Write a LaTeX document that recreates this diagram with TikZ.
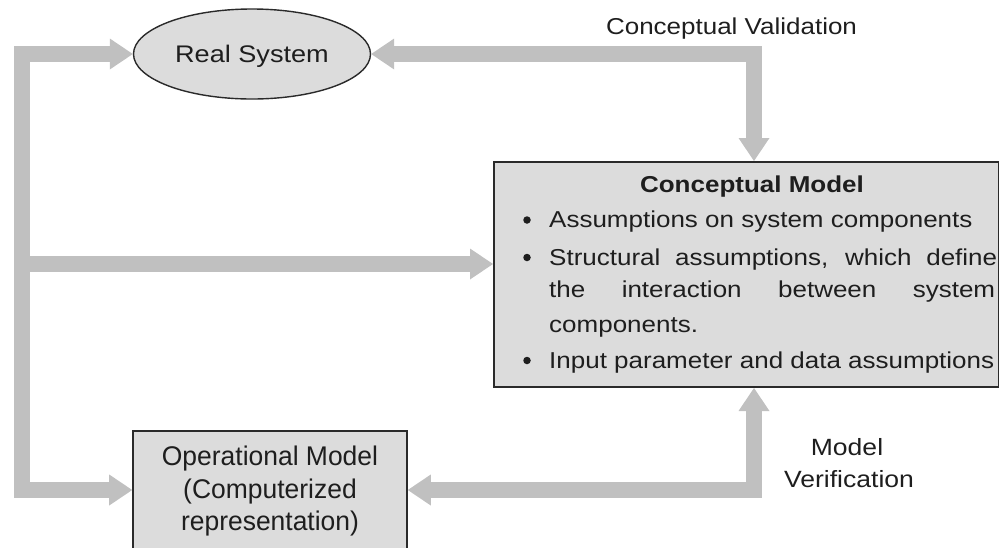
\documentclass[tikz,border=0pt]{standalone}
\usepackage{fontspec}
\setmainfont{Liberation Sans}[FakeStretch=1.13]
\newfontfamily\opfont{Liberation Sans}[FakeStretch=0.98]
\usetikzlibrary{arrows.meta,shapes.geometric}
\definecolor{barg}{HTML}{C0C0C0}
\definecolor{boxg}{HTML}{DCDCDC}
\definecolor{edge}{HTML}{2A2A2A}
\definecolor{txt}{HTML}{1E1E1E}
\tikzset{
  gtip/.tip={Triangle[length=23pt,width=31pt,line width=0pt]},
  gbar/.style={draw=barg, line width=16pt, line join=miter},
  lbl/.style={inner sep=0pt, anchor=base, text=txt, font=\fontsize{23}{27}\selectfont},
  graybox/.style={draw=edge, fill=boxg, inner sep=0pt},
  bulletdot/.style={circle, fill=txt, inner sep=0pt, minimum size=7.5pt},
}
\begin{document}
\begin{tikzpicture}[x=1pt,y=-1pt]
\useasboundingbox (0,0) rectangle (999,547);
% shapes
\node[graybox, ellipse, line width=1.4pt, minimum width=237pt, minimum height=90pt] (rs) at (252,54) {};
\node[graybox, rectangle, line width=2pt, minimum width=505pt, minimum height=225pt, anchor=north west] (cm) at (493,161) {};
\node[graybox, rectangle, line width=1.6pt, minimum width=274pt, minimum height=118pt] (op) at (270,490) {};
% helper coordinates
\coordinate (lx) at (22,0);
\coordinate (cvx) at (754,0);
\coordinate (midl) at (22,264);
% connectors
\draw[gbar, gtip-gtip] (rs.west) -| (lx |- op.west) -- (op.west);
\draw[gbar, -gtip] (midl) -- (midl -| cm.west);
\draw[gbar, gtip-gtip] (rs.east) -| (cvx |- cm.north);
\draw[gbar, gtip-gtip] (cvx |- cm.south) |- (op.east);
% texts
\node[lbl, font=\fontsize{24}{28}\selectfont] (rst) at (252,62.6) {Real System};
\node[lbl] (cv) at (731.5,34) {Conceptual Validation};
\node[lbl, font=\bfseries\fontsize{23}{27}\selectfont] (cmt) at (752,192) {Conceptual Model};
\node[bulletdot] (b1) at (527,220) {};
\node[bulletdot] (b2) at (527,257.5) {};
\node[bulletdot] (b3) at (527,360.5) {};
\node[lbl, anchor=base west] (l1) at (549,227.5) {Assumptions on system components};
\node[lbl, anchor=base west] (l2) at (549,265) {\makebox[448pt][s]{Structural assumptions, which define}};
\node[lbl, anchor=base west] (l3) at (549,297) {\makebox[446pt][s]{the interaction between system}};
\node[lbl, anchor=base west] (l4) at (549,332) {components.};
\node[lbl, anchor=base west] (l5) at (549,368) {Input parameter and data assumptions};
\node[lbl, font=\opfont\fontsize{27}{31}\selectfont] (o1) at (270,465) {Operational Model};
\node[lbl, font=\opfont\fontsize{27}{31}\selectfont] (o2) at (270,498) {(Computerized};
\node[lbl, font=\opfont\fontsize{27}{31}\selectfont] (o3) at (270,530) {representation)};
\node[lbl, font=\fontsize{23.5}{28}\selectfont] (mv1) at (847,455) {Model};
\node[lbl, font=\fontsize{23.5}{28}\selectfont] (mv2) at (849,487) {Verification};
\end{tikzpicture}
\end{document}
